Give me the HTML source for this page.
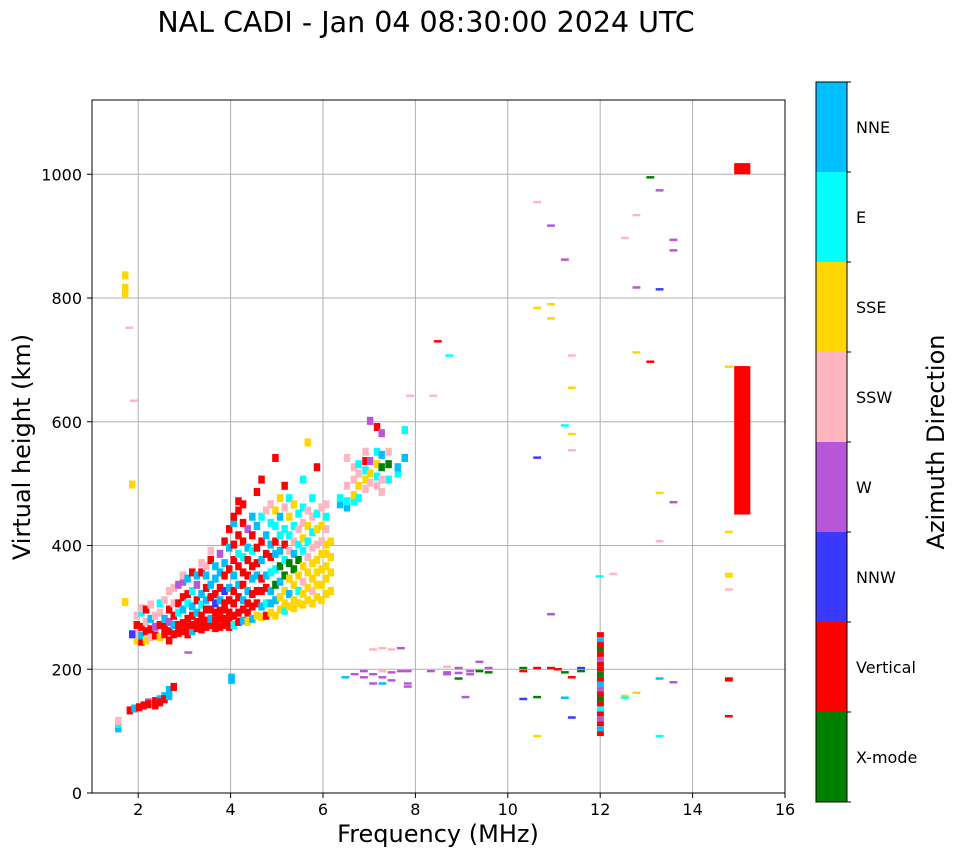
<!DOCTYPE html>
<html><head><meta charset="utf-8">
<style>
html,body{margin:0;padding:0;background:#fff;}
svg{display:block;font-family:"DejaVu Sans","Liberation Sans",sans-serif;}
</style></head>
<body>
<svg id="chart" width="958" height="857" viewBox="0 0 958 857" xmlns="http://www.w3.org/2000/svg">
<text x="426" y="32" font-size="28.5" text-anchor="middle">NAL CADI - Jan 04 08:30:00 2024 UTC</text>
<g id="grid"></g>
<g id="marks"></g>
<rect x="92" y="100" width="693" height="693" fill="none" stroke="#000" stroke-width="1"/>
<g id="axes"></g>
<text x="438" y="842" font-size="24" text-anchor="middle">Frequency (MHz)</text>
<text x="0" y="0" font-size="24" text-anchor="middle" transform="translate(30,447) rotate(-90)">Virtual height (km)</text>
<g id="cbar"></g>
<text x="0" y="0" font-size="24" text-anchor="middle" transform="translate(944,442) rotate(-90)">Azimuth Direction</text>
</svg>
<script>
const colorNames = ["X-mode","Vertical","NNW","W","SSW","SSE","E","NNE"];
const colorVals = ["#008000","#ff0000","#3a3aff","#b657d8","#ffb6c1","#ffd700","#00ffff","#00bfff"];
const xTicks = [2,4,6,8,10,12,14,16];
const yTicks = [0,200,400,600,800,1000];
// dense F-region columns "freq|height:color ..."
const cloudCols = [
"1.9|240:5 250:4 265:1 280:4","2.0|238:1 248:7 262:1 285:6 292:4","2.1|240:5 255:1 270:4 290:1",
"2.2|245:4 258:1 275:7 298:4","2.3|248:1 262:3 280:4","2.4|245:5 265:1 285:4 300:6",
"2.5|250:1 262:1 275:7 305:4","2.6|240:1 255:1 270:3 290:1 320:4","2.7|250:1 265:7 280:1 300:4 325:4",
"2.8|252:1 265:1 285:6 300:1 330:3","2.9|255:1 268:1 290:7 310:1 335:3 345:4",
"3.0|250:1 262:1 275:1 300:6 315:1 340:7","3.1|255:7 265:1 280:1 295:7 320:6 350:1",
"3.2|260:1 270:1 285:7 305:1 330:3 345:7","3.3|258:1 268:1 280:1 298:6 315:7 350:1 365:4",
"3.4|262:1 272:1 290:1 305:7 325:1 345:7 360:4","3.5|265:1 275:7 290:1 310:1 330:7 370:1 385:4",
"3.6|260:1 272:1 285:1 300:2 315:1 340:7 360:7","3.7|262:1 275:1 288:1 305:7 325:1 350:7 380:3",
"3.8|265:1 275:1 290:1 300:1 320:2 345:1 365:7 400:1","3.9|262:1 272:1 285:1 305:1 325:7 355:1 390:7 420:1",
"4.0|265:6 280:1 300:1 320:1 345:7 370:1 395:1 430:7 440:1","4.1|270:1 285:1 310:1 330:7 360:1 380:6 410:1 450:1 465:1",
"4.2|272:7 290:1 305:7 330:1 350:1 375:6 400:1 430:1 460:1","4.3|270:5 285:1 300:1 320:7 345:1 370:1 390:7 420:3",
"4.4|275:7 295:1 315:1 340:7 360:1 385:6 410:1 440:7","4.5|280:5 300:1 320:1 345:7 365:1 390:1 425:7 480:1",
"4.6|278:5 295:7 320:1 340:1 370:7 400:1 440:6 500:1","4.7|280:1 300:6 325:1 345:7 380:1 410:7 450:4",
"4.8|285:5 300:7 320:7 350:6 375:1 395:7 430:6 460:4","4.9|280:5 305:7 330:0 355:6 380:7 400:1 425:6 450:5 535:1",
"5.0|290:5 310:5 335:7 360:0 385:7 410:6 440:7 470:5","5.1|288:6 300:5 320:5 345:0 370:6 395:1 420:6 455:4 490:1",
"5.2|295:5 315:7 340:5 365:0 385:4 410:6 440:5 470:6","5.3|292:5 305:5 330:5 355:0 380:7 400:4 425:6 460:5",
"5.4|300:5 320:6 345:5 370:0 395:6 420:4 445:6","5.5|298:5 315:5 335:4 360:5 385:6 405:5 430:4 455:6 500:6",
"5.6|305:5 325:5 350:5 375:4 400:6 425:5 450:4 560:5","5.7|300:5 320:4 340:5 365:5 390:4 415:6 440:4 470:6",
"5.8|310:5 330:5 350:5 370:5 395:4 420:5 445:6 520:1","5.9|305:5 330:5 355:5 380:5 400:4 425:5 455:4",
"6.0|315:5 340:5 360:5 380:5 395:5 420:4 440:6 460:4","6.1|320:5 350:5 375:5 400:5",
"6.3|460:7 470:6","6.45|455:7 465:6 490:4 535:4","6.6|465:6 475:5 500:4 520:4",
"6.7|470:6 490:5 510:4 525:6","6.85|485:4 500:5 515:6 530:1 545:4","6.95|495:4 510:5 530:3 595:3",
"7.1|490:4 505:6 525:5 545:6 585:1","7.2|480:4 500:4 520:0 540:7 575:3","7.35|500:6 525:0 545:4",
"7.55|510:6 520:7","7.7|535:7 580:6",
"1.5|98:7 105:6 110:4","1.75|127:1","1.85|130:7","1.95|132:1","2.05|135:1","2.15|140:3 137:1",
"2.3|142:1 135:1","2.4|145:7 140:1","2.5|150:7 145:1","2.6|160:7 150:7","2.7|165:1",
"1.65|800:5 810:5 830:5 302:5","1.8|250:2 492:5","3.95|180:7 176:7"
];
// thin scattered echoes "freq|height:color"
const dashCells = [
"1.72|750:4","1.82|632:4","3.0|225:3","7.8|640:4","8.3|640:4",
"6.4|185:7","6.6|190:3","6.8|185:3 195:3","7.0|175:3 190:3 230:4","7.2|195:4 185:3 175:7 232:4",
"7.4|193:3 180:3 230:4","7.6|195:3 232:3","7.75|175:3 195:3 170:3","8.25|195:3","8.6|193:3 202:4 190:3",
"8.85|192:3 200:3 183:0","9.1|195:3 190:3","9.3|195:0 210:3","9.5|193:0 200:3","9.0|153:3",
"10.25|200:0 195:1 150:2","10.55|200:1 153:0 90:5","10.85|200:1","11.0|198:1","11.15|193:0 152:7",
"11.3|185:1 120:2","11.5|195:0 200:2","12.45|155:5 152:6","12.7|160:5","13.2|183:7 90:6","13.5|177:3",
"8.4|728:1","8.65|705:6","10.55|953:4 782:5 540:2","10.85|915:3 788:5 765:5 287:3","11.15|860:3 592:6",
"11.3|705:4 653:5 578:5 552:4","11.9|348:6","12.2|352:4","12.45|895:4","12.7|932:4 815:3 710:5",
"13.0|993:0 695:1","13.2|972:3 812:2 483:5 405:4","13.5|892:3 875:3 468:3",
"14.7|687:5 420:5 352:5 348:5 327:4 183:1 180:1 122:1"
];
// 12 MHz vertical striped column: heights and colors
const stripeHeights = [92,100,108,116,124,132,140,148,156,164,172,180,188,196,204,212,220,228,236,244,252];
const stripeColors = [1,7,1,3,1,6,1,0,1,3,7,1,0,1,1,3,1,0,1,7,1];
// large red blocks [fStart,fEnd,hStart,hEnd]
const blocks = [[14.9,15.25,450,690],[14.9,15.25,1000,1018]];

const X0=92,X1=785,Y0=793,Y1=100;
const xS=f=>X0+(f-1)/(16-1)*(X1-X0);
const yS=h=>Y0-h/1120*(Y0-Y1);
const NS="http://www.w3.org/2000/svg";
function mk(tag,attrs,parent){const e=document.createElementNS(NS,tag);for(const k in attrs)e.setAttribute(k,attrs[k]);parent.appendChild(e);return e;}
const grid=document.getElementById('grid'),marks=document.getElementById('marks'),axes=document.getElementById('axes'),cbar=document.getElementById('cbar');

xTicks.forEach(t=>{
  const l=mk('line',{x1:xS(t),x2:xS(t),y1:Y1,y2:Y0,stroke:'#b0b0b0','stroke-width':1},grid);
  
  
  const tk=mk('line',{x1:xS(t),x2:xS(t),y1:Y0,y2:Y0+5,stroke:'#000'},axes);
  
  
  const tx=mk('text',{x:xS(t),y:Y0+22,'font-size':16,'text-anchor':'middle'},axes);
  tx.textContent=t;
  
  
});
yTicks.forEach(t=>{
  const l=mk('line',{x1:X0,x2:X1,y1:yS(t),y2:yS(t),stroke:'#b0b0b0','stroke-width':1},grid);
  
  
  const tk=mk('line',{x1:X0-5,x2:X0,y1:yS(t),y2:yS(t),stroke:'#000'},axes);
  
  
  const tx=mk('text',{x:X0-10,y:yS(t)+6,'font-size':16,'text-anchor':'end'},axes);
  tx.textContent=t;
  
  
});

function drawCells(list,w,hk,name){
  list.forEach(s=>{
    const [f,rest]=s.split('|');const fv=parseFloat(f);
    rest.split(' ').forEach(p=>{
      const [h,c]=p.split(':').map(Number);
      const r=mk('rect',{x:xS(fv),y:yS(h+hk),width:xS(fv+w)-xS(fv),height:yS(h)-yS(h+hk),fill:colorVals[c]},marks);
      
      
    });
  });
}
drawCells(cloudCols,0.14,13,'echo-cell');
drawCells(dashCells,0.17,4,'echo-dash');
stripeHeights.forEach((h,i)=>{
  const r=mk('rect',{x:xS(11.93),y:yS(h+8),width:xS(12.08)-xS(11.93),height:yS(h)-yS(h+8),fill:colorVals[stripeColors[i]]},marks);
  
  
});
blocks.forEach(b=>{
  const r=mk('rect',{x:xS(b[0]),y:yS(b[3]),width:xS(b[1])-xS(b[0]),height:yS(b[2])-yS(b[3]),fill:colorVals[1]},marks);
  
  
});

// colorbar
const CX=816,CW=31,CT=82,CB=802,seg=(CB-CT)/colorNames.length;
colorNames.forEach((n,i)=>{
  const top=CB-(i+1)*seg;
  const r=mk('rect',{x:CX,y:top,width:CW,height:seg,fill:colorVals[i]},cbar);
  
  
  const tx=mk('text',{x:CX+CW+9,y:top+seg/2+6,'font-size':16},cbar);
  tx.textContent=n;
  
  
});
for(let i=0;i<=colorNames.length;i++){
  const y=CB-i*seg;
  const tk=mk('line',{x1:CX+CW,x2:CX+CW+4,y1:y,y2:y,stroke:'#000'},cbar);
  
  
}
const fr=mk('rect',{x:CX,y:CT,width:CW,height:CB-CT,fill:'none',stroke:'#000'},cbar);


</script>
</body></html>
